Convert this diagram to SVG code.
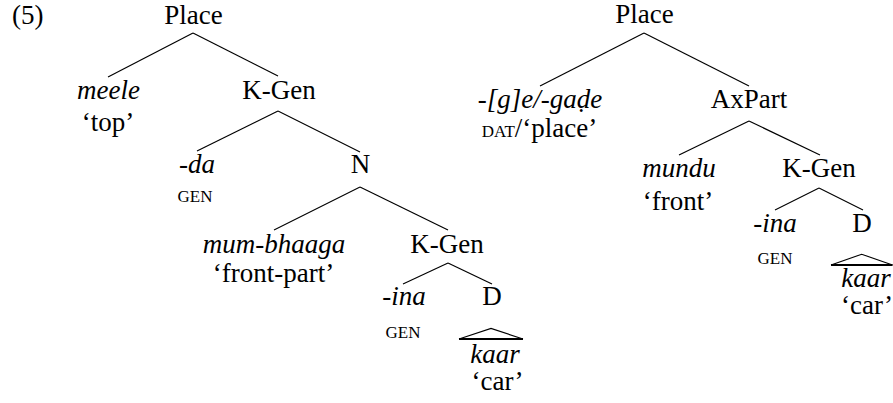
<svg xmlns="http://www.w3.org/2000/svg" width="893" height="403" viewBox="0 0 893 403">
<style>
text{font-family:'Liberation Serif','Times New Roman',serif;font-size:27px;fill:#000;text-anchor:middle}
.it{font-style:italic}
.sc{font-size:17px}
.edge{stroke:#000;stroke-width:1.2;fill:none}
.tri{stroke:#000;stroke-width:1.2;fill:none}
.base{stroke:#000;stroke-width:2.2}
</style>
<rect width="893" height="403" fill="#fff"/>
<text x="12" y="24" style="text-anchor:start">(5)</text>
<g id="connectors">
<line class="edge" x1="193" y1="33" x2="108" y2="77"/>
<line class="edge" x1="193" y1="33" x2="278" y2="76"/>
<line class="edge" x1="278" y1="111" x2="197" y2="151"/>
<line class="edge" x1="278" y1="111" x2="360" y2="152"/>
<line class="edge" x1="360" y1="187" x2="274" y2="230"/>
<line class="edge" x1="360" y1="187" x2="448" y2="230"/>
<line class="edge" x1="448" y1="263" x2="403" y2="284"/>
<line class="edge" x1="448" y1="263" x2="492" y2="284"/>
<line class="edge" x1="644" y1="33" x2="540" y2="86"/>
<line class="edge" x1="644" y1="33" x2="749" y2="86"/>
<line class="edge" x1="749" y1="121" x2="679" y2="155"/>
<line class="edge" x1="749" y1="121" x2="820" y2="155"/>
<line class="edge" x1="819" y1="188" x2="775" y2="210"/>
<line class="edge" x1="819" y1="188" x2="863" y2="210"/>
</g>
<g id="place1"><text x="193.5" y="24">Place</text></g>
<g id="meele"><text class="it" x="108.5" y="99">meele</text><text x="108" y="131">‘top’</text></g>
<g id="kgen1"><text x="279" y="99">K-Gen</text></g>
<g id="da"><text class="it" x="197" y="173">-da</text><text class="sc" x="195" y="202">GEN</text></g>
<g id="n1"><text x="360.5" y="173">N</text></g>
<g id="mumbhaaga"><text class="it" x="274" y="253">mum-bhaaga</text><text x="273.5" y="282">‘front-part’</text></g>
<g id="kgen2"><text x="447" y="253">K-Gen</text></g>
<g id="ina1"><text class="it" x="404" y="305">-ina</text><text class="sc" x="403" y="338">GEN</text></g>
<g id="d1"><text x="492" y="305">D</text></g>
<g id="kaar1">
<polyline class="tri" points="459,339 491,328.5 523,339"/>
<line class="base" x1="459" y1="339" x2="523" y2="339"/>
<text class="it" x="495" y="363">kaar</text><text x="497.5" y="390">‘car’</text>
</g>
<g id="place2"><text x="644.5" y="23">Place</text></g>
<g id="gade"><text class="it" x="540" y="108">-[g]e/-gaḍe</text><text x="539.5" y="137"><tspan class="sc">DAT</tspan>/‘place’</text></g>
<g id="axpart"><text x="749" y="108">AxPart</text></g>
<g id="mundu"><text class="it" x="679" y="177">mundu</text><text x="678" y="210">‘front’</text></g>
<g id="kgen3"><text x="819" y="177">K-Gen</text></g>
<g id="ina2"><text class="it" x="775" y="232">-ina</text><text class="sc" x="775" y="264">GEN</text></g>
<g id="d2"><text x="862" y="232">D</text></g>
<g id="kaar2">
<polyline class="tri" points="831,265 861.7,254.3 892.5,265"/>
<line class="base" x1="831" y1="265" x2="892.5" y2="265"/>
<text class="it" x="866" y="287">kaar</text><text x="867" y="314">‘car’</text>
</g>
</svg>
